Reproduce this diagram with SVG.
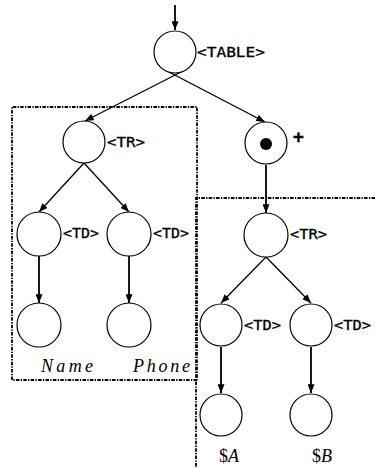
<svg xmlns="http://www.w3.org/2000/svg" width="375" height="468" viewBox="0 0 375 468">
<defs>
<marker id="ah" viewBox="0 0 10 8" refX="10" refY="4" markerWidth="9" markerHeight="7" markerUnits="userSpaceOnUse" orient="auto">
<path d="M0,0 L10,4 L0,8 Z" fill="#000"/>
</marker>
</defs>
<style>
.n{fill:#fff;stroke:#000;stroke-width:1.2}
.e{stroke:#000;stroke-width:1.3;fill:none;marker-end:url(#ah)}
.v{stroke:#000;stroke-width:1.8;fill:none;marker-end:url(#ah)}
.t{font-family:"DejaVu Sans Mono","Liberation Mono",monospace;font-size:14px;fill:#000;stroke:#000;stroke-width:0.3}
.m{font-family:"Liberation Serif","DejaVu Serif",serif;font-style:italic;font-size:18px;fill:#000}
.box{fill:none;stroke:#000;stroke-width:1.8;stroke-dasharray:3.5 1.3 1.3 1.3}
</style>
<rect width="375" height="468" fill="#fff"/>
<g id="regions">
<path class="box" d="M197,380 L12,380 L12,107 L197,107 L197,380"/>
<path class="box" d="M375,198 L196,198 L196,468"/>
</g>
<g id="connectors">
<line class="v" x1="175" y1="5" x2="175" y2="30"/>
<line class="e" x1="183" y1="71" x2="85" y2="121"/>
<line class="e" x1="167" y1="71" x2="265" y2="122"/>
<line class="e" x1="84" y1="163" x2="39" y2="212"/>
<line class="e" x1="84" y1="163" x2="129" y2="212"/>
<line class="v" x1="39" y1="256" x2="39" y2="303"/>
<line class="v" x1="129" y1="256" x2="129" y2="303"/>
<line class="v" x1="266" y1="165" x2="266" y2="213"/>
<line class="e" x1="266" y1="257" x2="221" y2="303"/>
<line class="e" x1="266" y1="257" x2="311" y2="303"/>
<line class="v" x1="221" y1="347" x2="221" y2="393"/>
<line class="v" x1="311" y1="347" x2="311" y2="393"/>
</g>
<g id="table"><circle class="n" cx="175" cy="52" r="21"/><text class="t" x="197" y="57" textLength="68" lengthAdjust="spacingAndGlyphs">&lt;TABLE&gt;</text></g>
<g id="tr1"><circle class="n" cx="84" cy="142" r="21"/><text class="t" x="107" y="147" textLength="38" lengthAdjust="spacingAndGlyphs">&lt;TR&gt;</text></g>
<g id="td1"><circle class="n" cx="39" cy="234" r="22"/><text class="t" x="63" y="238" textLength="36" lengthAdjust="spacingAndGlyphs">&lt;TD&gt;</text></g>
<g id="td2"><circle class="n" cx="129" cy="234" r="22"/><text class="t" x="153" y="238" textLength="36" lengthAdjust="spacingAndGlyphs">&lt;TD&gt;</text></g>
<g id="leaf1"><circle class="n" cx="39" cy="325" r="22"/><text class="m" x="41" y="372" textLength="52" lengthAdjust="spacing">Name</text></g>
<g id="leaf2"><circle class="n" cx="129" cy="325" r="22"/><text class="m" x="133" y="372" textLength="57" lengthAdjust="spacing">Phone</text></g>
<g id="star"><circle class="n" cx="266" cy="143" r="21"/><circle cx="266" cy="144" r="6" fill="#000"/><text class="t" x="293" y="143" style="font-size:18px;font-weight:bold">+</text></g>
<g id="tr2"><circle class="n" cx="266" cy="235" r="22"/><text class="t" x="290" y="239" textLength="37" lengthAdjust="spacingAndGlyphs">&lt;TR&gt;</text></g>
<g id="td3"><circle class="n" cx="221" cy="325" r="21"/><text class="t" x="244" y="330" textLength="37" lengthAdjust="spacingAndGlyphs">&lt;TD&gt;</text></g>
<g id="td4"><circle class="n" cx="311" cy="325" r="21"/><text class="t" x="334" y="330" textLength="37" lengthAdjust="spacingAndGlyphs">&lt;TD&gt;</text></g>
<g id="leaf3"><circle class="n" cx="221" cy="415" r="21"/><text class="m" x="219" y="462"><tspan font-style="normal">$</tspan>A</text></g>
<g id="leaf4"><circle class="n" cx="311" cy="415" r="21"/><text class="m" x="312" y="462"><tspan font-style="normal">$</tspan>B</text></g>
</svg>
